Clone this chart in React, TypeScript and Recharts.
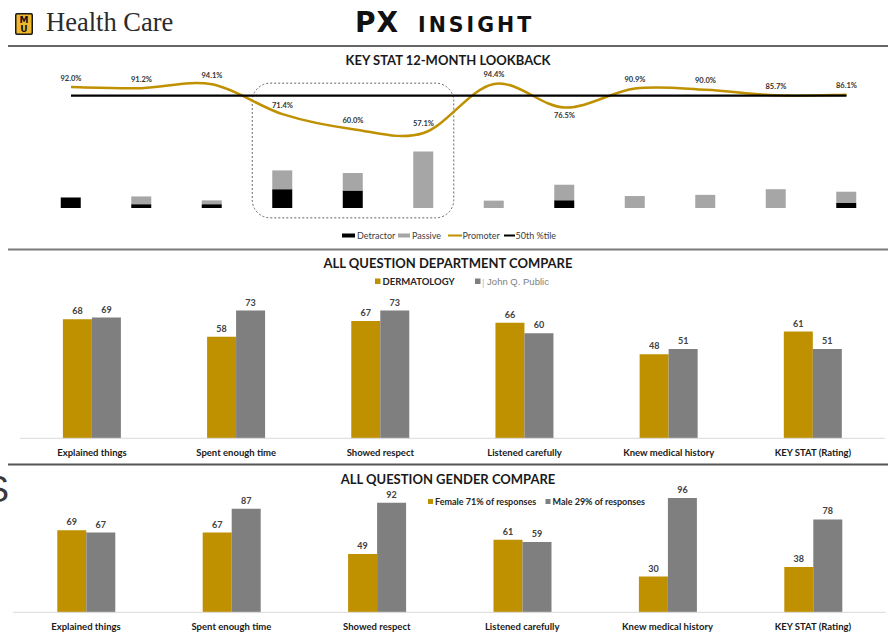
import React from 'react';
import {
  ComposedChart,
  BarChart,
  Bar,
  Line,
  XAxis,
  YAxis,
  LabelList,
  ReferenceArea,
  Rectangle,
} from 'recharts';

const GOLD = '#BF9000';
const GRAY = '#7F7F7F';
const PASSIVE = '#A6A6A6';
const FONT = 'Lato, "Open Sans", sans-serif';

// 12-month lookback (percent of responses)
const months = ['Jan', 'Feb', 'Mar', 'Apr', 'May', 'Jun', 'Jul', 'Aug', 'Sep', 'Oct', 'Nov', 'Dec'];
const promoter = [92.0, 91.2, 94.1, 71.4, 60.0, 57.1, 94.4, 76.5, 90.9, 90.0, 85.7, 86.1];
const passive = [0, 5.9, 2.9, 14.3, 13.3, 42.9, 5.6, 11.8, 9.1, 10.0, 14.3, 8.6];
const detractor = [8.0, 2.9, 2.9, 14.3, 13.3, 0, 0, 5.9, 0, 0, 0, 3.8];
const percentile50 = [85.5, 85.5, 85.5, 85.5, 85.5, 85.5, 85.5, 85.5, 85.5, 85.5, 85.5, 85.5];

// question scores
const questions = [
  'Explained things',
  'Spent enough time',
  'Showed respect',
  'Listened carefully',
  'Knew medical history',
  'KEY STAT (Rating)',
];
const dermatology = [68, 58, 67, 66, 48, 61];
const johnQPublic = [69, 73, 73, 60, 51, 51];
const female = [69, 67, 49, 61, 30, 38];
const male = [67, 87, 92, 59, 96, 78];

const lookback = months.map((month, i) => ({
  month,
  promoter: promoter[i],
  passive: passive[i],
  detractor: detractor[i],
  p50: percentile50[i],
}));
const deptData = questions.map((question, i) => ({
  question,
  dermatology: dermatology[i],
  publicScore: johnQPublic[i],
}));
const genderData = questions.map((question, i) => ({
  question,
  female: female[i],
  male: male[i],
}));

// smoothed line like the spreadsheet one: Catmull-Rom through every point
const smoothCurve = (context: any) => {
  let pts: number[][] = [];
  return {
    areaStart() {},
    areaEnd() {},
    lineStart() {
      pts = [];
    },
    point(x: number, y: number) {
      pts.push([+x, +y]);
    },
    lineEnd() {
      if (!pts.length) return;
      context.moveTo(pts[0][0], pts[0][1]);
      for (let i = 0; i < pts.length - 1; i++) {
        const p0 = pts[i - 1] || pts[i];
        const p1 = pts[i];
        const p2 = pts[i + 1];
        const p3 = pts[i + 2] || p2;
        context.bezierCurveTo(
          p1[0] + (p2[0] - p0[0]) / 6,
          p1[1] + (p2[1] - p0[1]) / 6,
          p2[0] - (p3[0] - p1[0]) / 6,
          p2[1] - (p3[1] - p1[1]) / 6,
          p2[0],
          p2[1]
        );
      }
    },
  };
};

// percentage labels on the promoter line (the August dip gets its label underneath)
const promoterLabel = (props: any) => {
  const { cx, cy, value, index } = props;
  const below = index === 7;
  return (
    <text
      key={`pl-${index}`}
      x={cx}
      y={below ? cy + 8.5 : cy - 9}
      textAnchor="middle"
      dominantBaseline="central"
      fontSize={7.5}
      fontWeight="bold"
      fill="#333"
      fontFamily={FONT}
    >
      {Number(value).toFixed(1)}%
    </text>
  );
};

const focusBox = (p: any) => (
  <Rectangle {...p} x={p.x + 5} width={p.width - 10} radius={18} />
);

const tickStyle = { fontSize: 9.5, fontWeight: 'bold', fill: '#1a1a1a', fontFamily: FONT };

function CompareChart({ data, keys, height, margin }: any) {
  return (
    <BarChart width={888} height={height} data={data} margin={margin} barGap={0}>
      <XAxis
        dataKey="question"
        axisLine={{ stroke: '#D9D9D9' }}
        tickLine={false}
        interval={0}
        height={20}
        tickMargin={5}
        tick={tickStyle}
      />
      <YAxis hide domain={[0, 100]} />
      {keys.map((k: string, i: number) => (
        <Bar key={k} dataKey={k} fill={i === 0 ? GOLD : GRAY} barSize={29} isAnimationActive={false}>
          <LabelList
            dataKey={k}
            position="top"
            offset={5}
            fontSize={9}
            fontWeight="bold"
            fill="#404040"
            fontFamily={FONT}
          />
        </Bar>
      ))}
    </BarChart>
  );
}

function Decorations() {
  return (
    <svg width={888} height={633} style={{ position: 'absolute', left: 0, top: 0 }}>
      {/* header */}
      <rect x={15} y={13} width={18} height={22} rx={2} fill="#1a1a1a" />
      <rect x={16.5} y={14.5} width={15} height={19} rx={1} fill="#F1B82D" />
      <text x={24} y={22.5} textAnchor="middle" fontSize={9} fontWeight="bold" fill="#111" fontFamily="DejaVu Sans">M</text>
      <text x={24} y={32} textAnchor="middle" fontSize={9} fontWeight="bold" fill="#111" fontFamily="DejaVu Sans">U</text>
      <text x={46} y={31} fontSize={26.5} fill="#2b2b2b" fontFamily='"Liberation Serif", serif'>Health Care</text>
      <text x={355} y={31.5} fontSize={28} fontWeight="bold" fill="#111" fontFamily='"DejaVu Sans", sans-serif' letterSpacing={1}>PX</text>
      <text x={418} y={31.5} fontSize={20.5} fontWeight="bold" fill="#111" fontFamily='"DejaVu Sans", sans-serif' letterSpacing={3}>INSIGHT</text>
      <line x1={8} x2={888} y1={46} y2={46} stroke="#666" strokeWidth={2} />

      {/* lookback */}
      <text x={448} y={60} textAnchor="middle" dominantBaseline="central" fontSize={13} fontWeight="bold" fill="#1a1a1a" fontFamily={FONT}>
        KEY STAT 12-MONTH LOOKBACK
      </text>
      <g fontSize={9} fill="#404040" fontFamily={FONT}>
        <rect x={342} y={233.5} width={13} height={4} fill="#000" />
        <text x={357} y={235.5} dominantBaseline="central">Detractor</text>
        <rect x={398} y={233.5} width={12} height={4} fill={PASSIVE} />
        <text x={412} y={235.5} dominantBaseline="central">Passive</text>
        <line x1={448} x2={462} y1={235.5} y2={235.5} stroke={GOLD} strokeWidth={2} />
        <text x={462.5} y={235.5} dominantBaseline="central">Promoter</text>
        <line x1={504} x2={515} y1={235.5} y2={235.5} stroke="#000" strokeWidth={2} />
        <text x={515.5} y={235.5} dominantBaseline="central">50th %tile</text>
      </g>
      <line x1={8} x2={888} y1={249.5} y2={249.5} stroke="#7a7a7a" strokeWidth={2} />

      {/* department compare */}
      <text x={448} y={263} textAnchor="middle" dominantBaseline="central" fontSize={13} fontWeight="bold" fill="#1a1a1a" fontFamily={FONT}>
        ALL QUESTION DEPARTMENT COMPARE
      </text>
      <rect x={375} y={278.5} width={5.5} height={5.5} fill={GOLD} />
      <text x={382.5} y={281.5} dominantBaseline="central" fontSize={9.5} fontWeight="bold" fill="#262626" fontFamily={FONT}>DERMATOLOGY</text>
      <rect x={475} y={278.5} width={5.5} height={5.5} fill={GRAY} />
      <text x={482} y={281.5} dominantBaseline="central" fontSize={9.5} fill="#808080" fontFamily='"Liberation Sans", Arial, sans-serif'>
        <tspan fill="#c0c0c0">|</tspan> John Q. Public
      </text>
      <line x1={8} x2={888} y1={464.5} y2={464.5} stroke="#555" strokeWidth={2} />

      {/* gender compare */}
      <text x={-15} y={502} fontSize={36} fill="#3a3a3a" fontFamily='"Liberation Sans", Arial, sans-serif'>S</text>
      <text x={448} y={478.5} textAnchor="middle" dominantBaseline="central" fontSize={13} fontWeight="bold" fill="#1a1a1a" fontFamily={FONT}>
        ALL QUESTION GENDER COMPARE
      </text>
      <g fontSize={9} fontWeight="bold" fill="#262626" fontFamily={FONT}>
        <rect x={428} y={499} width={5} height={5} fill={GOLD} />
        <text x={435} y={501.7} dominantBaseline="central">Female 71% of responses</text>
        <rect x={545.5} y={499} width={5} height={5} fill={GRAY} />
        <text x={552.5} y={501.7} dominantBaseline="central">Male 29% of responses</text>
      </g>
    </svg>
  );
}

export default function App() {
  return (
    <div
      style={{
        position: 'absolute',
        left: 0,
        top: 0,
        width: 888,
        height: 633,
        background: '#fff',
        overflow: 'hidden',
        fontFamily: FONT,
      }}
    >
      <Decorations />

      <div style={{ position: 'absolute', left: 0, top: 46 }}>
        <ComposedChart
          width={888}
          height={200}
          data={lookback}
          margin={{ top: 24, right: 6.25, bottom: 38, left: 35.75 }}
        >
          <XAxis dataKey="month" hide />
          <YAxis hide domain={[0, 105]} />
          <ReferenceArea
            x1="Apr"
            x2="Jun"
            y1={-7.5}
            y2={95}
            ifOverflow="visible"
            fill="none"
            stroke="#666"
            strokeWidth={1}
            strokeDasharray="2 2"
            shape={focusBox}
          />
          <Bar dataKey="detractor" stackId="a" fill="#000" barSize={20} isAnimationActive={false} />
          <Bar dataKey="passive" stackId="a" fill={PASSIVE} barSize={20} isAnimationActive={false} />
          <Line
            dataKey="promoter"
            type={smoothCurve as any}
            stroke={GOLD}
            strokeWidth={2.5}
            dot={promoterLabel}
            activeDot={false}
            isAnimationActive={false}
          />
          <Line
            dataKey="p50"
            type="linear"
            stroke="#000"
            strokeWidth={2.2}
            dot={false}
            activeDot={false}
            isAnimationActive={false}
          />
        </ComposedChart>
      </div>

      <div style={{ position: 'absolute', left: 0, top: 250 }}>
        <CompareChart
          data={deptData}
          keys={['dermatology', 'publicScore']}
          height={214}
          margin={{ top: 13.3, right: 3, bottom: 5.7, left: 19.9 }}
        />
      </div>

      <div style={{ position: 'absolute', left: 0, top: 465 }}>
        <CompareChart
          data={genderData}
          keys={['female', 'male']}
          height={168}
          margin={{ top: 28.3, right: 2.3, bottom: 0.7, left: 13.3 }}
        />
      </div>
    </div>
  );
}
